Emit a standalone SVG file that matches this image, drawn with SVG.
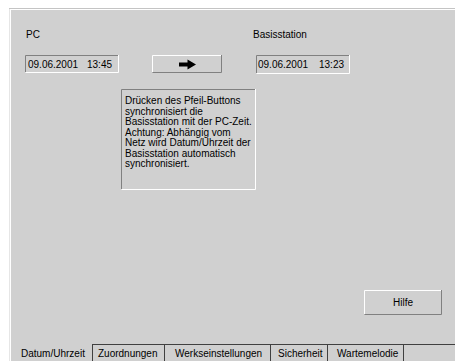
<svg xmlns="http://www.w3.org/2000/svg" width="455" height="361" viewBox="0 0 455 361">
<style>
text{font-family:"Liberation Sans",Arial,sans-serif;font-size:10px;fill:#000}
.dk{stroke:#808080;stroke-width:1;fill:none}
.lt{stroke:#ffffff;stroke-width:1;fill:none}
.tab{stroke:#404040;stroke-width:1;fill:none}
</style>
<rect x="0" y="0" width="455" height="361" fill="#ffffff"/>
<g id="panel">
<rect x="9" y="8" width="446" height="353" fill="#d0d0d0"/>
<line x1="9" y1="8.5" x2="455" y2="8.5" stroke="#c4c4c4"/>
<line x1="9" y1="9.5" x2="455" y2="9.5" stroke="#ffffff"/>
<line x1="9.5" y1="9" x2="9.5" y2="361" stroke="#e6e6e6"/>
<line x1="10.5" y1="10" x2="10.5" y2="361" stroke="#ffffff"/>
</g>
<g id="pc">
<text x="26" y="38">PC</text>
<path class="dk" d="M25.5,72 V55.5 H118"/>
<path class="lt" d="M25.5,72.5 H118.5 V55"/>
<text x="28" y="68">09.06.2001 <tspan x="87">13:45</tspan></text>
</g>
<g id="sync-button">
<path class="lt" d="M152.5,72 V55.5 H222"/>
<path class="dk" d="M152.5,72.5 H221.5 V55"/>
<path d="M179,62.5 H187.5 V59.5 L196,64.5 L187.5,69.5 V66.5 H179 Z" fill="#000"/>
</g>
<g id="basisstation">
<text x="253" y="38">Basisstation</text>
<path class="dk" d="M256.5,73 V55.5 H349"/>
<path class="lt" d="M256.5,73.5 H349.5 V55"/>
<text x="258" y="68">09.06.2001 <tspan x="319">13:23</tspan></text>
</g>
<g id="info">
<path class="dk" d="M121.5,189 V89.5 H255"/>
<path class="lt" d="M121.5,189.5 H255.5 V89"/>
<text x="125" y="104">Drücken des Pfeil-Buttons</text>
<text x="125" y="114.5">synchronisiert die</text>
<text x="125" y="125">Basisstation mit der PC-Zeit.</text>
<text x="125" y="135.5">Achtung: Abhängig vom</text>
<text x="125" y="146">Netz wird Datum/Uhrzeit der</text>
<text x="125" y="156.5">Basisstation automatisch</text>
<text x="125" y="167">synchronisiert.</text>
</g>
<g id="hilfe">
<path class="lt" d="M364.5,314 V290.5 H442"/>
<path class="dk" d="M364.5,314.5 H441.5 V290"/>
<text x="403" y="306" text-anchor="middle">Hilfe</text>
</g>
<g id="tabs">
<line class="tab" x1="92" y1="344.5" x2="455" y2="344.5"/>
<line class="tab" x1="92.5" y1="344" x2="92.5" y2="361"/>
<line class="tab" x1="164.5" y1="344" x2="164.5" y2="361"/>
<line class="tab" x1="270.5" y1="344" x2="270.5" y2="361"/>
<line class="tab" x1="327.5" y1="344" x2="327.5" y2="361"/>
<line class="tab" x1="403.5" y1="344" x2="403.5" y2="361"/>
<text x="21" y="357">Datum/Uhrzeit</text>
<text x="98" y="357">Zuordnungen</text>
<text x="175" y="357">Werkseinstellungen</text>
<text x="278" y="357">Sicherheit</text>
<text x="337" y="357">Wartemelodie</text>
</g>
</svg>
